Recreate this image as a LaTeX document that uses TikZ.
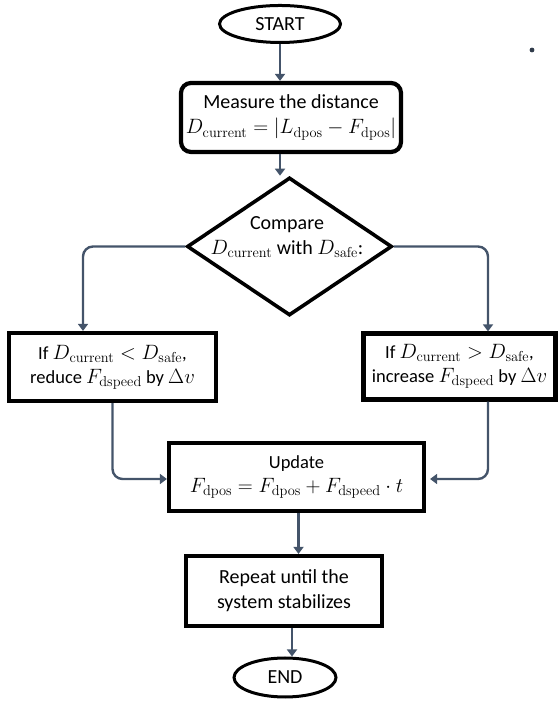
\documentclass[tikz,border=0pt]{standalone}
\usepackage[no-math]{fontspec}
\setmainfont{Carlito}
\usetikzlibrary{arrows.meta, shapes.geometric}

\definecolor{arrowgray}{HTML}{44546A}
\DeclareMathSizes{20}{21.8}{15.5}{11}
\DeclareMathSizes{18.5}{21}{15}{10.5}

\tikzset{
	terminal/.style={ellipse, draw, line width=3pt, inner sep=0pt, font=\fontsize{20}{24}\selectfont},
	process/.style={rectangle, draw, line width=4.2pt, inner sep=0pt, align=center},
	decision/.style={diamond, draw, line width=3.6pt, inner sep=0pt},
	flow/.style={->, draw=arrowgray, line width=2.4pt},
	bigtext/.style={font=\fontsize{20}{25}\selectfont},
	smalltext/.style={font=\fontsize{18.5}{24}\selectfont}
}

\begin{document}
\begin{tikzpicture}[x=1pt,y=1pt,>={Triangle[length=7pt,width=10pt]},rounded corners=0pt]
		\useasboundingbox (0,0) rectangle (558,708);

		\node[terminal, minimum width=121, minimum height=37]              (start)   at (280,684)   {START};
		\node[process, bigtext, rounded corners=10pt,
		      minimum width=220, minimum height=69]                          (measure) at (291,590.5) {Measure the distance\\ $D_{\mathrm{current}} = |L_{\mathrm{dpos}} - F_{\mathrm{dpos}}|$};
		\node[decision, minimum width=205, minimum height=138]               (cmp)     at (289.5,461.5) {};
		\node[bigtext, align=center]                                         (cmptext) at (287,471)   {Compare\\ $D_{\mathrm{current}}$ with $D_{\mathrm{safe}}$:};
		\node[process, smalltext, minimum width=207, minimum height=68]      (lbox)    at (112.5,341) {If $D_{\mathrm{current}} < D_{\mathrm{safe}}$,\\ reduce $F_{\mathrm{dspeed}}$ by $\Delta v$};
		\node[process, smalltext, minimum width=192, minimum height=66]      (rbox)    at (459.5,341.5) {If $D_{\mathrm{current}} > D_{\mathrm{safe}}$,\\ increase $F_{\mathrm{dspeed}}$ by $\Delta v$};
		\node[process, smalltext, minimum width=255, minimum height=68]      (update)  at (296.5,231) {Update\\ $F_{\mathrm{dpos}} = F_{\mathrm{dpos}} + F_{\mathrm{dspeed}} \cdot t$};
		\node[process, bigtext, minimum width=196, minimum height=70]        (repeat)  at (284,117)   {Repeat until the\\ system stabilizes};
		\node[terminal, minimum width=102, minimum height=39]               (end)     at (285,30.5)  {END};

		% stray mark
		\fill[arrowgray!70!black] (532,658) circle (2.4);

		\draw[flow] (start.south) -- (start.south |- measure.north);
		\draw[flow] ([xshift=-11]measure.south) -- ([xshift=-11]measure.south |- cmp.north);
		\draw[flow, rounded corners=10pt] (cmp.west) -| ([xshift=-29.5]lbox.north);
		\draw[flow, rounded corners=10pt] (cmp.east) -| ([xshift=28.5]rbox.north);
		\draw[flow, rounded corners=10pt] (lbox.south) |- ([yshift=-2]update.west);
		\draw[flow, rounded corners=10pt, shorten >=4pt] ([xshift=28.5]rbox.south) |- ([yshift=-2]update.east);
		\draw[flow] ([xshift=2]update.south) -- ([xshift=2]update.south |- repeat.north);
		\draw[flow] ([xshift=8]repeat.south) -- ([xshift=8]repeat.south |- end.north);
	\end{tikzpicture}
\end{document}
